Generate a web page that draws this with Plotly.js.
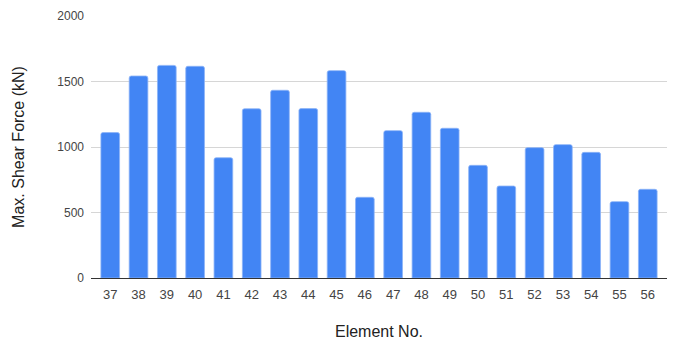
<!DOCTYPE html>
<html>
<head>
<meta charset="utf-8">
<script src="https://cdn.plot.ly/plotly-3.0.1.min.js"></script>
<style>
  html, body { margin: 0; padding: 0; background: #fff; }
  #chart { width: 673px; height: 340px; }
</style>
</head>
<body>
<div id="chart"></div>
<script>
// Element numbers and their maximum shear force (kN)
const elements = ["37","38","39","40","41","42","43","44","45","46",
                  "47","48","49","50","51","52","53","54","55","56"];
const shearForce = [1110, 1542, 1623, 1616, 918, 1292, 1433, 1293, 1583, 616,
                    1125, 1265, 1143, 860, 702, 995, 1018, 959, 583, 677];
const yTicks = [0, 500, 1000, 1500, 2000];

const trace = {
  type: "bar",
  x: elements,
  y: shearForce,
  marker: {
    color: "#4285F4",
    line: { color: "#8db4f8", width: 0.8 },
    cornerradius: 2
  },
  hoverinfo: "x+y"
};

const layout = {
  width: 673,
  height: 340,
  margin: { l: 91, r: 6, t: 16, b: 62 },
  paper_bgcolor: "#ffffff",
  plot_bgcolor: "#ffffff",
  font: { family: "Liberation Sans, Arial, sans-serif", color: "#444444", size: 12 },
  bargap: 0.34,
  showlegend: false,
  xaxis: {
    type: "category",
    range: [-0.68, elements.length - 1 + 0.68],
    showgrid: false,
    showline: true,
    linecolor: "#333333",
    linewidth: 1,
    ticks: "",
    ticklabelstandoff: 4,
    tickfont: { size: 13, color: "#444444" },
    title: { text: "Element No.", font: { size: 16, color: "#222222" }, standoff: 26 }
  },
  yaxis: {
    range: [0, 2000],
    tickvals: yTicks,
    ticktext: yTicks.map(String),
    showgrid: true,
    gridcolor: "#d6d6d6",
    gridwidth: 1,
    zeroline: false,
    showline: false,
    ticks: "",
    ticklabelstandoff: 6,
    tickfont: { size: 12, color: "#444444" },
    title: { text: "Max. Shear Force (kN)", font: { size: 16, color: "#222222" }, standoff: 28 }
  }
};

Plotly.newPlot("chart", [trace], layout, { displayModeBar: false, staticPlot: true });
</script>
</body>
</html>
